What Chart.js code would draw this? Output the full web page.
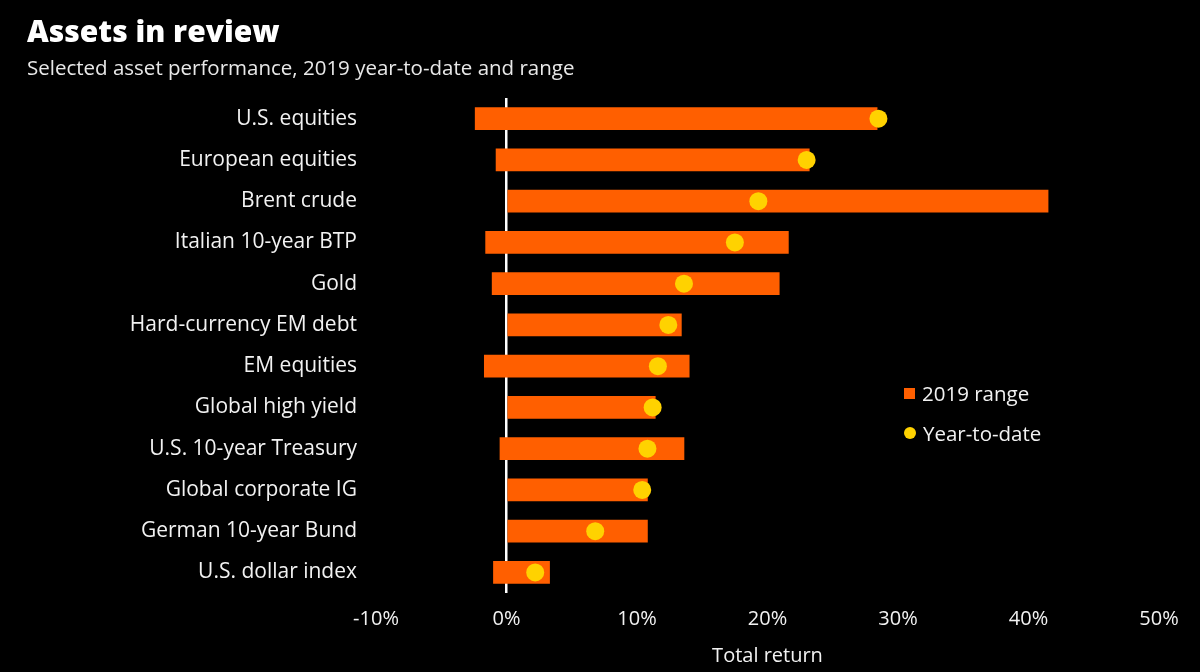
<!DOCTYPE html>
<html>
<head>
<meta charset="utf-8">
<script src="https://cdn.jsdelivr.net/npm/chart.js@4"></script>
<style>
  html, body { margin: 0; padding: 0; background: #000; }
  body { width: 1200px; height: 672px; position: relative; overflow: hidden; font-family: "Open Sans", sans-serif; color: #f2f2f2; }
  #title { position: absolute; left: 27px; top: 10px; font: 800 30px "Open Sans", sans-serif; color: #fff; }
  #subtitle { position: absolute; left: 27px; top: 53px; font-size: 20.5px; color: #e8e8e8; }
  .legend { position: absolute; left: 904px; font-size: 20.5px; color: #f2f2f2; display: flex; align-items: center; }
  .legend .sw { width: 11px; height: 11px; margin-right: 7px; }
  .legend .dot { border-radius: 50%; width: 12px; height: 12px; }
</style>
</head>
<body>
<canvas id="chart" width="1200" height="672" style="position:absolute;left:0;top:0"></canvas>
<div id="title">Assets in review</div>
<div id="subtitle">Selected asset performance, 2019 year-to-date and range</div>
<div class="legend" style="top:379px"><span class="sw" style="background:#ff5f00"></span>2019 range</div>
<div class="legend" style="top:419px"><span class="sw dot" style="background:#ffd200"></span>Year-to-date</div>
<script>
"use strict";

const $ = (id) => document.getElementById(id);

const assets = [
  "U.S. equities", "European equities", "Brent crude", "Italian 10-year BTP", "Gold",
  "Hard-currency EM debt", "EM equities", "Global high yield", "U.S. 10-year Treasury",
  "Global corporate IG", "German 10-year Bund", "U.S. dollar index",
];
const rangeLow  = [-2.4, -0.8, 0, -1.6, -1.1, 0, -1.7, 0, -0.5, 0, 0, -1.0];
const rangeHigh = [28.4, 23.2, 41.5, 21.6, 20.9, 13.4, 14.0, 11.4, 13.6, 10.8, 10.8, 3.3];
const ytd       = [28.5, 23.0, 19.3, 17.5, 13.6, 12.4, 11.6, 11.2, 10.8, 10.4, 6.8, 2.2];
const xTicks    = [-10, 0, 10, 20, 30, 40, 50];

const ORANGE = "#ff5f00";
const YELLOW = "#ffd200";
const TEXT = "#f2f2f2";
const FONT = "Open Sans";

new Chart($("chart"), {
  type: "bar",
  data: {
    labels: assets,
    datasets: [
      { type: "line", label: "Year-to-date", data: ytd, indexAxis: "y", showLine: false,
        pointRadius: 9, pointHoverRadius: 9, pointBackgroundColor: YELLOW, pointBorderWidth: 0, order: 0 },
      { label: "2019 range", data: rangeLow.map((lo, i) => [lo, rangeHigh[i]]),
        backgroundColor: ORANGE, barThickness: 22, borderSkipped: false, order: 1 },
    ],
  },
  options: {
    indexAxis: "y",
    responsive: false, animation: false,
    layout: { padding: { top: 98, right: 41, left: 0, bottom: 0 } },
    plugins: { legend: { display: false }, tooltip: { enabled: false } },
    scales: {
      x: {
        min: -10, max: 50,
        afterBuildTicks: (s) => { s.ticks = xTicks.map((v) => ({ value: v })); },
        afterFit: (s) => { s.height = 79; },
        grid: {
          drawTicks: false,
          color: (c) => (c.tick && c.tick.value === 0 ? "#ffffff" : "rgba(0,0,0,0)"),
          lineWidth: (c) => (c.tick && c.tick.value === 0 ? 2.5 : 0),
        },
        border: { display: false },
        ticks: { color: TEXT, font: { family: FONT, size: 20 }, padding: 14, callback: (v) => `${v}%` },
        title: { display: true, text: "Total return", color: TEXT, font: { family: FONT, size: 20 }, padding: { top: 0 } },
      },
      y: {
        afterFit: (s) => { s.width = 376; },
        grid: { display: false, drawTicks: false },
        border: { display: false },
        ticks: { color: TEXT, font: { family: FONT, size: 21 }, padding: 19 },
      },
    },
  },
});
</script>
</body>
</html>
